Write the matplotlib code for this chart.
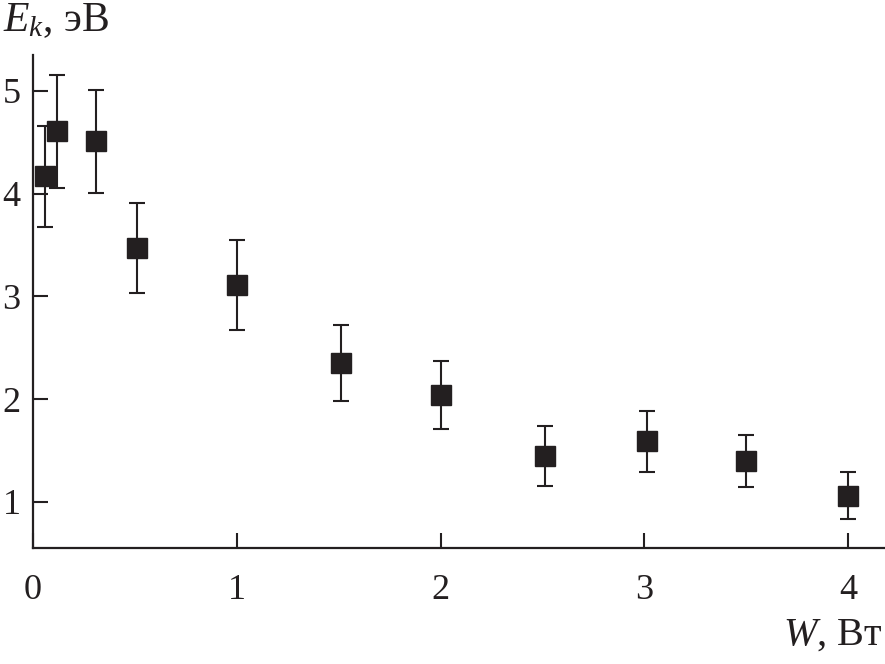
import matplotlib
matplotlib.use("Agg")
import matplotlib.pyplot as plt

W = [0.06, 0.12, 0.31, 0.51, 1.0, 1.51, 2.0, 2.51, 3.01, 3.5, 4.0]
Ek = [4.17, 4.61, 4.51, 3.47, 3.11, 2.35, 2.04, 1.45, 1.59, 1.40, 1.06]
err = [0.49, 0.55, 0.50, 0.44, 0.44, 0.37, 0.33, 0.29, 0.30, 0.25, 0.23]
xticks = [0, 1, 2, 3, 4]
yticks = [1, 2, 3, 4, 5]

plt.rcParams['font.family'] = ['Liberation Serif', 'DejaVu Serif']
plt.rcParams['mathtext.fontset'] = 'custom'
plt.rcParams['mathtext.rm'] = 'Liberation Serif'
plt.rcParams['mathtext.it'] = 'Liberation Serif:italic'

col = '#231f20'
fig = plt.figure(figsize=(8.85, 6.64), dpi=100)
ax = fig.add_axes([33/885, 1-548/664, 1-33/885, (548-55)/664])
ax.errorbar(W, Ek, yerr=err, fmt='s', color=col, ecolor=col, markersize=15, capsize=6,
            elinewidth=1.5, capthick=1.5, mec=col, mfc=col)
ax.set_xlim(0, 4.18)
ax.set_ylim(0.552, 5.35)
ax.set_xticks(xticks)
ax.set_yticks(yticks)
ax.set_xticklabels([str(t) for t in xticks])
ax.set_yticklabels([str(t) for t in yticks])
for s in ['top', 'right']:
    ax.spines[s].set_visible(False)
for s in ['left', 'bottom']:
    ax.spines[s].set_linewidth(1.6)
    ax.spines[s].set_color(col)
ax.tick_params(direction='in', length=11, width=1.5, color=col, labelsize=26, labelcolor=col)
ax.tick_params(axis='x', pad=19)
ax.tick_params(axis='y', pad=9)
fig.text(0.003, 0.998, r'$E_k$, эВ', fontsize=30, va='top', ha='left', color=col)
fig.text(0.997, 0.015, r'$W$, Вт', fontsize=29, va='bottom', ha='right', color=col)
fig.savefig('out.png', dpi=100)
